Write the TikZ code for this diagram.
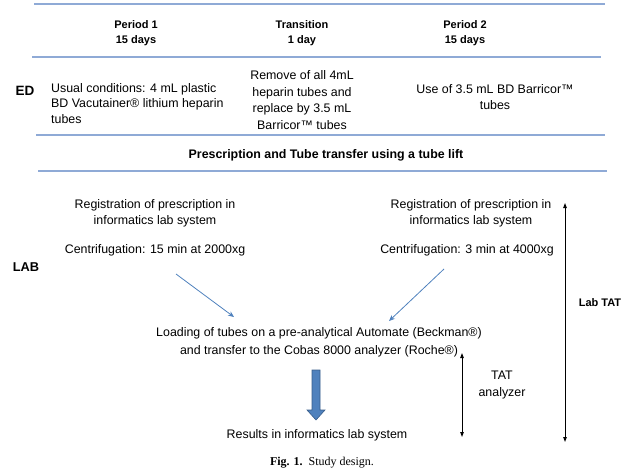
\documentclass[tikz,border=0pt]{standalone}
\usepackage{fontspec}
\setmainfont{Liberation Sans}
\newfontfamily\capfont{Liberation Serif}
\usetikzlibrary{arrows.meta,positioning,calc}
\definecolor{sepblue}{RGB}{143,170,214}
\definecolor{flowblue}{RGB}{79,129,189}
\definecolor{edgeblue}{RGB}{56,93,138}

\begin{document}
\begin{tikzpicture}[x=1pt,y=-1pt,
  sep/.style={draw=sepblue,line width=1.2pt},
  txt/.style={inner sep=0pt,align=center,font=\fontsize{12.4}{16.5}\selectfont},
  hd/.style={inner sep=0pt,align=center,font=\fontsize{11}{15}\selectfont\bfseries},
  side/.style={inner sep=0pt,font=\fontsize{13.5}{15}\selectfont\bfseries},
  flow/.style={draw=flowblue,line width=0.8pt,-{Stealth[length=6pt,width=5pt]}},
  span/.style={line width=0.9pt,{Triangle[length=5pt,width=3.5pt]}-{Triangle[length=5pt,width=3.5pt]}}]
\useasboundingbox (0,0) rectangle (634,469);

% table lines
\draw[sep] (34,4) -- (605,4);
\draw[sep] (32,57) -- (601,57);
\draw[sep] (36,135) -- (605,135);
\draw[sep] (38,171) -- (607,171);

% ED part
\node[hd] (per1) at (136,33.5) {Period 1\\15 days};
\node[hd] (trans) at (302,33.5) {Transition\\1 day};
\node[hd] (per2) at (465,33.5) {Period 2\\15 days};

\node[side] (ed) at (25,91) {ED};
\node[txt,align=left,anchor=west,font=\fontsize{12.4}{15.7}\selectfont] (usual) at (51,103.5)
  {Usual conditions: 4 mL plastic\\BD Vacutainer® lithium heparin\\tubes};
\node[txt] (remove) at (302,100)
  {Remove of all 4mL\\heparin tubes and\\replace by 3.5 mL\\Barricor™ tubes};
\node[txt] (use) at (495,97) {Use of 3.5 mL BD Barricor™\\tubes};

\node[txt,font=\fontsize{12.4}{15}\selectfont\bfseries] (lift) at (326,155)
  {Prescription and Tube transfer using a tube lift};

% LAB part
\node[side,font=\fontsize{12.8}{15}\selectfont\bfseries] (lab) at (26,267) {LAB};
\node[txt] (regL) at (155,213.5) {Registration of prescription in\\informatics lab system};
\node[txt] (cenL) at (155,250) {Centrifugation: 15 min at 2000xg};
\node[txt] (regR) at (471,213.5) {Registration of prescription in\\informatics lab system};
\node[txt] (cenR) at (467,250) {Centrifugation: 3 min at 4000xg};

\node[txt,font=\fontsize{12.4}{18}\selectfont] (load) at (319,342)
  {Loading of tubes on a pre-analytical Automate (Beckman®)\\and transfer to the Cobas 8000 analyzer (Roche®)};
\node[txt] (res) at (317,435) {Results in informatics lab system};

\coordinate (aL) at (176,274);
\coordinate (bL) at (234,317);
\coordinate (aR) at (444,269);
\coordinate (bR) at (389,321);
\draw[flow] (aL) -- (bL);
\draw[flow] (aR) -- (bR);

% big arrow
\filldraw[fill=flowblue,draw=edgeblue,line width=0.6pt]
  (312,370) -- (320,370) -- (320,410) -- (325,410) -- (316,420) -- (307,410) -- (312,410) -- cycle;

% TAT spans
\coordinate (tatTop) at (462,353);
\coordinate (tatBot) at (462,437);
\draw[span] (tatTop) -- (tatBot);
\node[txt] (tat) at (502,385) {TAT\\analyzer};

\coordinate (labTop) at (565,203);
\coordinate (labBot) at (565,442);
\draw[span] (labTop) -- (labBot);
\node[side,font=\fontsize{11}{14}\selectfont\bfseries] (labtat) at (600,303) {Lab TAT};

\node[inner sep=0pt,font=\fontsize{12}{14}\selectfont\capfont] (cap) at (322,463)
  {\textbf{Fig. 1.}\ \ Study design.};
\end{tikzpicture}
\end{document}
